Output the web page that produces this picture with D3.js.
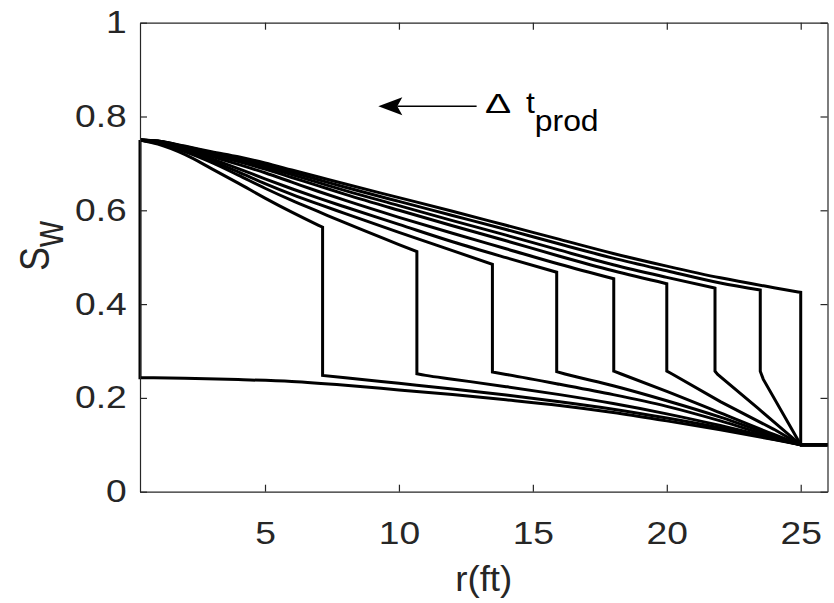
<!DOCTYPE html>
<html>
<head>
<meta charset="utf-8">
<script src="https://cdn.jsdelivr.net/npm/d3@7"></script>
<style>
  html, body { margin: 0; padding: 0; background: #fff; }
  svg { display: block; }
</style>
</head>
<body>
<svg id="chart" width="834" height="603"></svg>
<script>
// Water saturation profiles around a producing well. Each profile is the
// high-saturation zone near the well, a sharp front, and the low-saturation
// zone that runs out to the outer radius.

const rWell = 0.333, rOuter = 25, rEdge = 26;
const sInlet = 0.75, sFar = 0.1;

const xTicks = [5, 10, 15, 20, 25];
const yTicks = [0, 0.2, 0.4, 0.6, 0.8, 1];

// front position (ft) and saturation just behind / ahead of each front
const frontR      = [0.333, 7.15, 10.67, 13.49, 15.89, 18.02, 20.0, 21.80, 23.49, 25.0];
const frontTop    = [0.75, 0.564, 0.512, 0.485, 0.468, 0.454, 0.4435, 0.434, 0.430, 0.425];
const frontBottom = [0.243, 0.248, 0.2515, 0.255, 0.256, 0.257, 0.257, 0.257, 0.257, 0.1];

// saturation behind the front, sampled at these radii (only r < front used)
const upperGrid = [1, 2, 3, 4, 5, 6, 7, 8, 10, 12, 14, 16, 18, 20, 22, 24];
const upperS = [
  [],
  [0.741, 0.719, 0.689, 0.658, 0.626, 0.596, 0.568],
  [0.743, 0.725, 0.702, 0.675, 0.647, 0.621, 0.597, 0.573, 0.527],
  [0.744, 0.728, 0.706, 0.682, 0.657, 0.634, 0.613, 0.593, 0.553, 0.514],
  [0.745, 0.730, 0.710, 0.689, 0.667, 0.646, 0.626, 0.607, 0.570, 0.533, 0.499],
  [0.746, 0.732, 0.715, 0.698, 0.680, 0.660, 0.640, 0.621, 0.585, 0.551, 0.518, 0.485],
  [0.747, 0.734, 0.719, 0.704, 0.688, 0.670, 0.652, 0.634, 0.600, 0.567, 0.535, 0.502, 0.471],
  [0.747, 0.735, 0.721, 0.708, 0.693, 0.676, 0.659, 0.642, 0.610, 0.578, 0.547, 0.515, 0.484, 0.457],
  [0.748, 0.736, 0.723, 0.711, 0.697, 0.681, 0.665, 0.649, 0.619, 0.589, 0.559, 0.528, 0.498, 0.471, 0.445],
  [0.748, 0.737, 0.725, 0.714, 0.701, 0.686, 0.671, 0.656, 0.627, 0.598, 0.568, 0.538, 0.508, 0.481, 0.456, 0.435]
];

// saturation ahead of the front, out to the outer radius
const tailR = [
  [2, 4, 6, 8, 10, 12, 14, 16, 18, 20, 22, 24],
  [8, 10, 12, 14, 16, 18, 20, 22, 24],
  [11, 12, 14, 16, 18, 20, 22, 24],
  [14, 16, 18, 20, 22, 24],
  [16.2, 18, 20, 22, 24],
  [18.3, 20, 22, 24],
  [20.2, 22, 24],
  [21.9, 23.4],
  [23.6],
  []
];
const tailS = [
  [0.242, 0.239, 0.235, 0.227, 0.217, 0.207, 0.196, 0.184, 0.169, 0.151, 0.132, 0.111],
  [0.243, 0.231, 0.219, 0.206, 0.192, 0.176, 0.157, 0.136, 0.112],
  [0.248, 0.240, 0.224, 0.207, 0.188, 0.166, 0.141, 0.1135],
  [0.250, 0.229, 0.207, 0.182, 0.151, 0.116],
  [0.251, 0.226, 0.194, 0.159, 0.119],
  [0.251, 0.214, 0.168, 0.122],
  [0.251, 0.192, 0.133],
  [0.250, 0.178],
  [0.240],
  []
];

const FONT = "'Liberation Sans', Arial, Helvetica, sans-serif";
const AXIS_COLOR = "#262626";
const TEXT_STRETCH = 1.2;

const plot = { left: 140, right: 827.5, top: 22.7, bottom: 491.7 };
const svg = d3.select("#chart");

const x = d3.scaleLinear().domain([rWell, rEdge]).range([plot.left, plot.right]);
const y = d3.scaleLinear().domain([0, 1]).range([plot.bottom, plot.top]);

// profiles: smooth curve behind the front, vertical jump, then the outer zone
const smooth = d3.line().x(d => x(d[0])).y(d => y(d[1])).curve(d3.curveMonotoneX);
const straight = d3.line().x(d => x(d[0])).y(d => y(d[1]));
const pt = d => `${x(d[0])},${y(d[1])}`;

const profilePaths = frontR.map((rf, i) => {
  const upper = [[rWell, sInlet]];
  upperS[i].forEach((s, j) => upper.push([upperGrid[j], s]));
  if (rf > rWell) upper.push([rf, frontTop[i]]);

  const tail = [[rf, frontBottom[i]]];
  tailR[i].forEach((r, j) => tail.push([r, tailS[i][j]]));
  if (rf < rOuter) tail.push([rOuter, sFar]);

  let d = upper.length > 1 ? smooth(upper) : "M" + pt(upper[0]);
  // long outer zones are smooth; short ones keep their sharp knee
  const tailGen = tail.length >= 6 ? smooth : straight;
  d += tail.length > 1 ? tailGen(tail).replace(/^M/, "L") : "L" + pt(tail[0]);
  d += "L" + pt([rEdge, sFar]);
  return d;
});

svg.append("g")
  .selectAll("path")
  .data(profilePaths)
  .join("path")
  .attr("d", d => d)
  .attr("fill", "none")
  .attr("stroke", "#000")
  .attr("stroke-width", 3.0)
  .attr("stroke-linejoin", "miter");

// axes box with inward ticks on all four sides
function styleAxis(g) {
  g.select(".domain").attr("stroke", AXIS_COLOR).attr("stroke-width", 1.2);
  g.selectAll(".tick line").attr("stroke", AXIS_COLOR).attr("stroke-width", 1.2);
  g.selectAll(".tick text")
    .attr("fill", AXIS_COLOR)
    .attr("transform", `scale(${TEXT_STRETCH},1)`)
    .style("font-family", FONT)
    .style("font-size", "31px");
}

svg.append("g")
  .attr("transform", `translate(0,${plot.bottom})`)
  .call(d3.axisBottom(x).tickValues(xTicks).tickSizeInner(-7).tickSizeOuter(0)
    .tickPadding(30).tickFormat(d3.format("d")))
  .call(styleAxis);

svg.append("g")
  .attr("transform", `translate(${plot.left},0)`)
  .call(d3.axisLeft(y).tickValues(yTicks).tickSizeInner(-7).tickSizeOuter(0)
    .tickPadding(11).tickFormat(d => (d === 0 || d === 1) ? String(d) : d3.format(".1f")(d)))
  .call(styleAxis);

svg.append("g")
  .attr("transform", `translate(0,${plot.top})`)
  .call(d3.axisTop(x).tickValues(xTicks).tickSizeInner(-7).tickSizeOuter(0).tickFormat(""))
  .call(styleAxis);

svg.append("g")
  .attr("transform", `translate(${plot.right},0)`)
  .call(d3.axisRight(y).tickValues(yTicks).tickSizeInner(-7).tickSizeOuter(0).tickFormat(""))
  .call(styleAxis);

// axis labels
svg.append("text")
  .attr("transform", `translate(${(plot.left + plot.right) / 2},591) scale(1.05,1)`)
  .attr("text-anchor", "middle")
  .attr("fill", AXIS_COLOR)
  .style("font-family", FONT)
  .style("font-size", "35px")
  .text("r(ft)");

const yLabel = svg.append("text")
  .attr("transform", `translate(49,246) rotate(-90) scale(1,${TEXT_STRETCH})`)
  .attr("text-anchor", "middle")
  .attr("fill", AXIS_COLOR)
  .style("font-family", FONT)
  .style("font-size", "36px");
yLabel.append("tspan").text("S");
yLabel.append("tspan").attr("dy", 12).text("w");

// production-time arrow annotation
const arrowY = 0.822;
const arrowFrom = 12.9, arrowTo = 9.23;
const headLen = 24, headHalf = 9, notch = 5;
const tipX = x(arrowTo), ay = y(arrowY);
svg.append("line")
  .attr("x1", x(arrowFrom)).attr("y1", ay)
  .attr("x2", tipX + headLen - notch).attr("y2", ay)
  .attr("stroke", "#000").attr("stroke-width", 1.4);
svg.append("path")
  .attr("d", `M${tipX},${ay} L${tipX + headLen},${ay - headHalf} L${tipX + headLen - notch},${ay} L${tipX + headLen},${ay + headHalf} Z`)
  .attr("fill", "#000");

const noteX = x(13.21), noteY = y(0.807);
svg.append("text")
  .attr("transform", `translate(${noteX},${noteY}) scale(1.35,0.95)`)
  .attr("fill", "#000")
  .style("font-family", FONT)
  .style("font-size", "29px")
  .text("\u0394");
const note = svg.append("text")
  .attr("transform", `translate(${noteX + 41},${noteY}) scale(1.1,1)`)
  .attr("fill", "#000")
  .style("font-family", FONT)
  .style("font-size", "29px");
note.append("tspan").text("t");
note.append("tspan").attr("dy", 18).text("prod");
</script>
</body>
</html>
